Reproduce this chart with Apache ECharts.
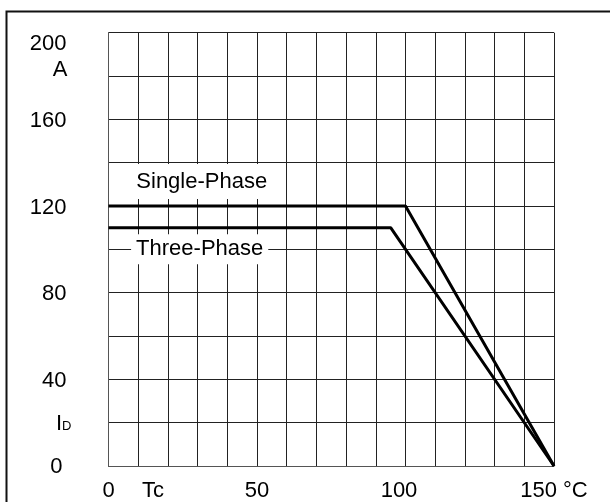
<!DOCTYPE html>
<html>
<head>
<meta charset="utf-8">
<script src="https://cdn.jsdelivr.net/npm/echarts@6/dist/echarts.min.js"></script>
<style>html,body{margin:0;padding:0;background:#fff}#c{width:610px;height:502px}</style>
</head>
<body>
<div id="c"></div>
<script>
// Data
var singlePhase = [[0, 120], [100, 120], [150, 0]];
var threePhase = [[0, 110], [95, 110], [150, 0]];
var xLabelValues = [0, 15, 50, 100, 150];
var xLabelTexts = ['0', 'Tc', '50', '{s|100}', '150 °C'];
var yLabelValues = [0, 20, 40, 80, 120, 160, 180, 200];
var yLabelTexts = ['{z|0}', '{i|I}{d|D}', '{n|40}', '{n|80}', '{n|120}', '{n|160}', '{a|A}', '{t|200}'];
var seriesNames = ['Single-Phase', 'Three-Phase'];
var seriesLabelCoords = [[31.4, 131.3], [30.7, 100]];

var FONT = 'Liberation Sans, Arial, sans-serif';
var chart = echarts.init(document.getElementById('c'), null, {renderer: 'canvas'});

function mkSeries(name, data, coord) {
  return {
    type: 'line', name: name, data: data, showSymbol: false, animation: false,
    lineStyle: {color: '#000', width: 3}, z: 3,
    markPoint: {
      symbol: 'rect', symbolSize: [1, 1], itemStyle: {color: 'rgba(0,0,0,0)'},
      animation: false,
      label: {
        show: true, position: 'inside', formatter: name,
        color: '#000', fontSize: 22, fontFamily: FONT,
        backgroundColor: '#fff', padding: name === seriesNames[0] ? [6, 5, 7, 5] : [4, 5, 4, 5]
      },
      data: [{coord: coord}]
    }
  };
}

chart.setOption({
  animation: false,
  backgroundColor: '#fff',
  grid: {left: 108.5, right: 56, top: 32.7, bottom: 36, containLabel: false},
  xAxis: {
    type: 'value', min: 0, max: 150, interval: 10,
    axisLine: {show: true, lineStyle: {color: '#555', width: 1}},
    axisTick: {show: false},
    splitLine: {show: true, lineStyle: {color: '#222', width: 1}},
    axisLabel: {
      customValues: xLabelValues,
      formatter: function (v) { var i = xLabelValues.indexOf(v); return i >= 0 ? xLabelTexts[i] : ''; },
      margin: 14, color: '#000', fontSize: 22, fontFamily: FONT,
      rich: {s: {fontSize: 22, fontFamily: FONT, color: '#000', padding: [0, 13, 0, 0]}}
    }
  },
  yAxis: {
    type: 'value', min: 0, max: 200, interval: 20,
    axisLine: {show: true, lineStyle: {color: '#555', width: 1}},
    axisTick: {show: false},
    splitLine: {show: true, lineStyle: {color: '#222', width: 1}},
    axisLabel: {
      customValues: yLabelValues,
      formatter: function (v) { var i = yLabelValues.indexOf(v); return i >= 0 ? yLabelTexts[i] : ''; },
      margin: 37, color: '#000', fontSize: 22, fontFamily: FONT,
      rich: {
        n: {fontSize: 22, fontFamily: FONT, color: '#000', padding: [3, 5, 0, 0]},
        z: {fontSize: 22, fontFamily: FONT, color: '#000', padding: [2, 9, 0, 0]},
        t: {fontSize: 22, fontFamily: FONT, color: '#000', padding: [22, 5, 0, 0]},
        a: {fontSize: 22, fontFamily: FONT, color: '#000', padding: [0, 4, 12, 0]},
        i: {fontSize: 22, fontFamily: FONT, color: '#000', verticalAlign: 'bottom', padding: [2, 0, 0, 0]},
        d: {fontSize: 13, fontFamily: FONT, color: '#000', verticalAlign: 'bottom', padding: [0, 0, 2, 0]}
      }
    }
  },
  graphic: [{
    type: 'rect', left: 4, top: 9, z: 10, silent: true,
    shape: {x: 0, y: 0, width: 700, height: 600},
    style: {fill: 'none', stroke: '#111', lineWidth: 2}
  }],
  series: [
    mkSeries(seriesNames[0], singlePhase, seriesLabelCoords[0]),
    mkSeries(seriesNames[1], threePhase, seriesLabelCoords[1])
  ]
});
</script>
</body>
</html>
